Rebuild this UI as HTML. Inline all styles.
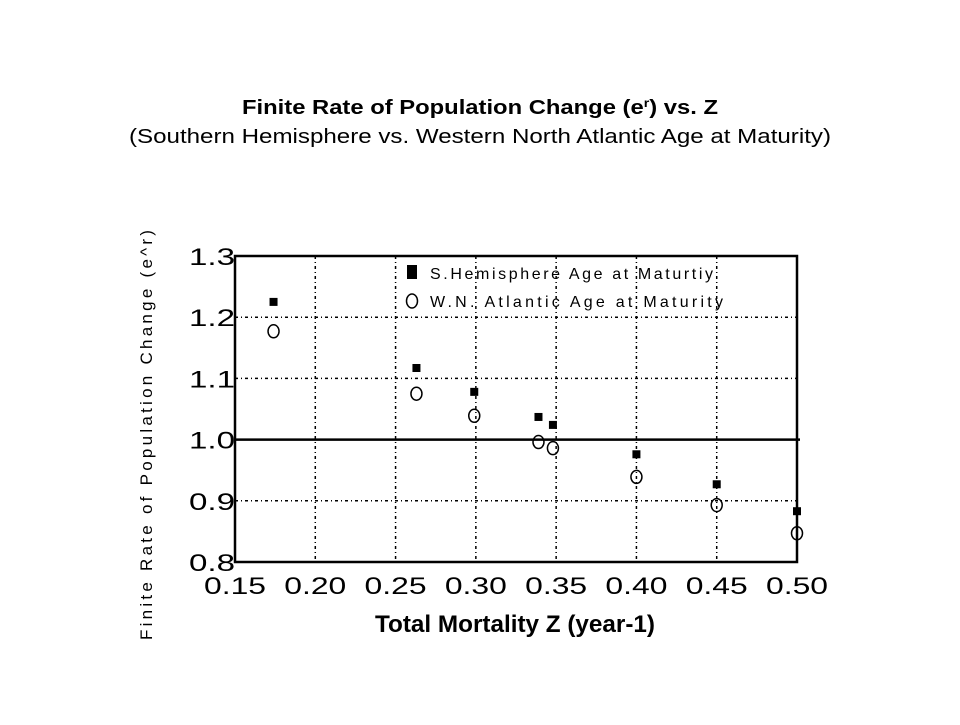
<!DOCTYPE html>
<html><head><meta charset="utf-8"><style>
body{margin:0;background:#fff;width:960px;height:720px;overflow:hidden;font-family:"Liberation Sans",Arial,sans-serif}
</style></head><body>
<svg id="chart" width="960" height="720" viewBox="0 0 960 720">
<text x="480" y="114" text-anchor="middle" font-size="20" font-weight="bold" textLength="476" lengthAdjust="spacingAndGlyphs">Finite Rate of Population Change (e<tspan font-size="12" dy="-7">r</tspan><tspan dy="7">) vs. Z</tspan></text>
<text x="480" y="143" text-anchor="middle" font-size="20" textLength="702" lengthAdjust="spacingAndGlyphs">(Southern Hemisphere vs. Western North Atlantic Age at Maturity)</text>
<g id="grid"></g>
<g id="axes"></g>
<g id="marks"></g>
<g>
<rect x="407" y="265" width="10" height="14" fill="#000"/>
<text x="430" y="279" font-size="16" textLength="283" lengthAdjust="spacing">S.Hemisphere Age at Maturtiy</text>
<ellipse cx="412" cy="301" rx="5.5" ry="7" fill="none" stroke="#000" stroke-width="1.5"/>
<text x="430" y="307" font-size="16" textLength="293" lengthAdjust="spacing">W.N. Atlantic Age at Maturity</text>
</g>
<text transform="translate(152,435) rotate(-90)" text-anchor="middle" font-size="17" textLength="410" lengthAdjust="spacing">Finite Rate of Population Change (e^r)</text>
<text x="515" y="632" text-anchor="middle" font-size="24" font-weight="bold" textLength="280" lengthAdjust="spacingAndGlyphs">Total Mortality Z (year-1)</text>
</svg>
<script>
const xTicks=[0.15,0.20,0.25,0.30,0.35,0.40,0.45,0.50];
const xTickLabels=["0.15","0.20","0.25","0.30","0.35","0.40","0.45","0.50"];
const yTicks=[0.8,0.9,1.0,1.1,1.2,1.3];
const yTickLabels=["0.8","0.9","1.0","1.1","1.2","1.3"];
const zValues=[0.174,0.263,0.299,0.339,0.348,0.40,0.45,0.50];
const sHemisphere=[1.225,1.117,1.078,1.037,1.024,0.976,0.927,0.883];
const wnAtlantic=[1.177,1.075,1.039,0.996,0.986,0.939,0.893,0.847];
const L=235,R=797,T=256,B=562;
const sx=v=>L+(v-0.15)/(0.35)*(R-L);
const sy=v=>B-(v-0.8)/(0.5)*(B-T);
const NS="http://www.w3.org/2000/svg";
function mk(tag,attrs,parent){const e=document.createElementNS(NS,tag);for(const k in attrs)e.setAttribute(k,attrs[k]);parent.appendChild(e);return e;}
const grid=document.getElementById('grid'),axes=document.getElementById('axes'),marks=document.getElementById('marks');
xTicks.forEach((t,i)=>{
 const g=mk('line',{x1:sx(t),x2:sx(t),y1:T,y2:B,stroke:'#000','stroke-width':1.5,'stroke-dasharray':'3,3,1,3'},grid);
 
 
 const tx=mk('text',{x:sx(t),y:594,'text-anchor':'middle','font-size':24,textLength:62,lengthAdjust:'spacingAndGlyphs'},axes);
 tx.textContent=xTickLabels[i];
 
 
});
yTicks.forEach((t,i)=>{
 const g=mk('line',{x1:L,x2:R,y1:sy(t),y2:sy(t),stroke:'#000','stroke-width':1.5,'stroke-dasharray':'3,3,1,3'},grid);
 
 
 const tx=mk('text',{x:212,y:sy(t)+9,'text-anchor':'middle','font-size':24,textLength:46,lengthAdjust:'spacingAndGlyphs'},axes);
 tx.textContent=yTickLabels[i];
 
 
});
const fr=mk('rect',{x:L,y:T,width:R-L,height:B-T,fill:'none',stroke:'#000','stroke-width':2.5},axes);


const ref=mk('line',{x1:L,x2:R+3,y1:sy(1.0),y2:sy(1.0),stroke:'#000','stroke-width':2.5},axes);


zValues.forEach((z,i)=>{
 const s=mk('rect',{x:sx(z)-4,y:sy(sHemisphere[i])-4,width:8,height:8,fill:'#000'},marks);
 
 
 const c=mk('ellipse',{cx:sx(z),cy:sy(wnAtlantic[i]),rx:5.5,ry:6.5,fill:'none',stroke:'#000','stroke-width':1.5},marks);
 
 
});
</script>
</body></html>
